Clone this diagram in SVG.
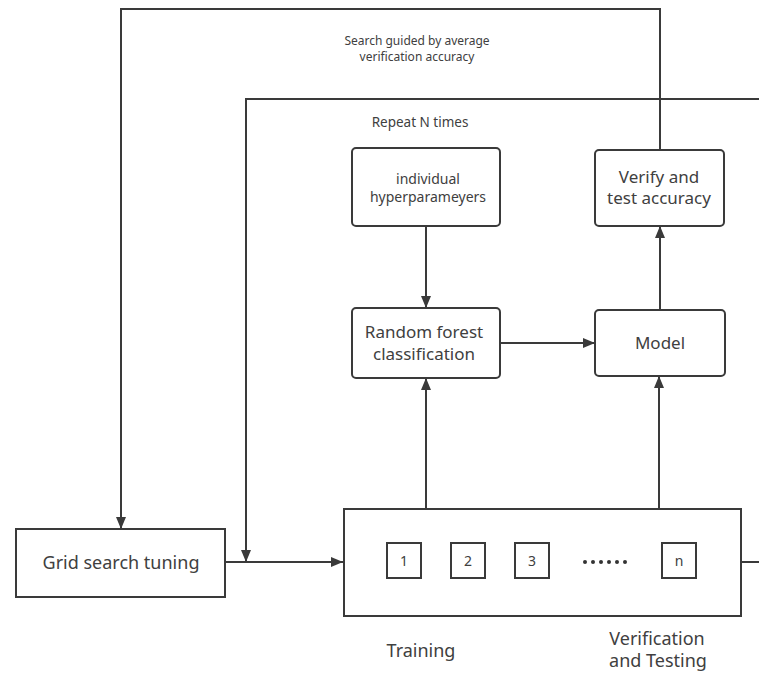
<svg xmlns="http://www.w3.org/2000/svg" width="759" height="673" viewBox="0 0 759 673">
  <style>
    .box { fill: #ffffff; stroke: #3a3a3a; stroke-width: 2; }
    .edge { fill: none; stroke: #3a3a3a; stroke-width: 2; }
    text { font-family: "Noto Sans", "Open Sans", "Liberation Sans", sans-serif; fill: #404040; text-anchor: middle; }
    .small { font-size: 12px; }
    .note { font-size: 13.5px; }
    .mid { font-size: 14px; }
    .big { font-size: 17px; }
    .lg { font-size: 18px; }
  </style>
  <defs>
    <marker id="arrowL" viewBox="0 0 12 10" refX="12" refY="5" markerWidth="12" markerHeight="10" markerUnits="userSpaceOnUse" orient="auto">
      <path d="M0,0 L12,5 L0,10 z" fill="#3a3a3a"/>
    </marker>
  </defs>

  <!-- connectors -->
  <g id="connectors">
    <!-- outer search loop -->
    <path class="edge" d="M660,150 V9 H121 V529" marker-end="url(#arrowL)"/>
    <!-- repeat loop -->
    <path class="edge" d="M759,99 H246 V562" marker-end="url(#arrowL)"/>
    <!-- grid search to folds -->
    <path class="edge" d="M225,562 H343" marker-end="url(#arrowL)"/>
    <!-- folds exit right -->
    <path class="edge" d="M741,562 H759"/>
    <!-- hyperparameters to random forest -->
    <path class="edge" d="M426,226 V308" marker-end="url(#arrowL)"/>
    <!-- random forest to model -->
    <path class="edge" d="M500,343 H595" marker-end="url(#arrowL)"/>
    <!-- model to verify -->
    <path class="edge" d="M660,310 V226" marker-end="url(#arrowL)"/>
    <!-- training split to random forest -->
    <path class="edge" d="M426,509 V378" marker-end="url(#arrowL)"/>
    <!-- verification split to model -->
    <path class="edge" d="M659,509 V376" marker-end="url(#arrowL)"/>
  </g>

  <!-- labels -->
  <text class="small" x="417" y="45">Search guided by average</text>
  <text class="small" x="417" y="61">verification accuracy</text>
  <text class="note" x="420" y="127">Repeat N times</text>

  <g id="hyperparams">
    <rect class="box" x="352" y="148" width="148" height="78" rx="4"/>
    <text class="mid" x="428" y="184">individual</text>
    <text class="mid" x="428" y="202">hyperparameyers</text>
  </g>

  <g id="verify">
    <rect class="box" x="595" y="150" width="129" height="76" rx="4"/>
    <text class="big" x="659" y="183">Verify and</text>
    <text class="big" x="659" y="204">test accuracy</text>
  </g>

  <g id="random-forest">
    <rect class="box" x="352" y="308" width="148" height="70" rx="4"/>
    <text class="big" x="424" y="338">Random forest</text>
    <text class="big" x="424" y="360">classification</text>
  </g>

  <g id="model">
    <rect class="box" x="595" y="310" width="130" height="66" rx="4"/>
    <text class="big" x="660" y="349">Model</text>
  </g>

  <g id="grid-search">
    <rect class="box" x="16" y="529" width="209" height="68"/>
    <text class="lg" x="121" y="569">Grid search tuning</text>
  </g>

  <g id="folds">
    <rect class="box" x="344" y="509" width="397" height="107"/>
    <rect class="box" x="387" y="543" width="34" height="35"/>
    <text class="mid" x="404" y="566">1</text>
    <rect class="box" x="451" y="543" width="34" height="35"/>
    <text class="mid" x="468" y="566">2</text>
    <rect class="box" x="515" y="543" width="34" height="35"/>
    <text class="mid" x="532" y="566">3</text>
    <g fill="#333333">
      <circle cx="585" cy="562" r="2"/>
      <circle cx="593" cy="562" r="2"/>
      <circle cx="601" cy="562" r="2"/>
      <circle cx="609" cy="562" r="2"/>
      <circle cx="617" cy="562" r="2"/>
      <circle cx="625" cy="562" r="2"/>
    </g>
    <rect class="box" x="662" y="543" width="34" height="35"/>
    <text class="mid" x="679" y="566">n</text>
  </g>

  <text class="lg" x="421" y="657">Training</text>
  <text class="lg" x="657" y="645">Verification</text>
  <text class="lg" x="658" y="667">and Testing</text>
</svg>
